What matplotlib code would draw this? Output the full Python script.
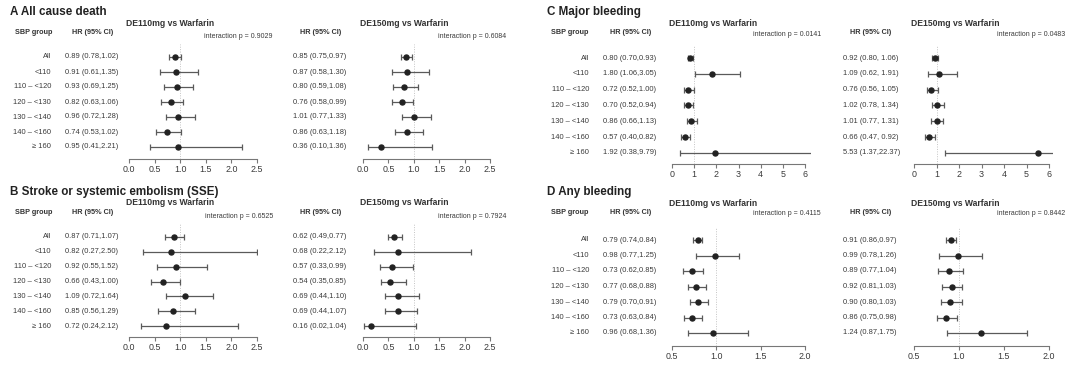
import numpy as np
import matplotlib
matplotlib.use("Agg")
import matplotlib.pyplot as plt
import matplotlib.transforms as mtransforms

plt.rcParams['font.family'] = ['Liberation Sans', 'DejaVu Sans']

W, H = 1080, 371
groups = ["All", "<110", "110 \u2013 <120", "120 \u2013 <130", "130 \u2013 <140", "140 \u2013 <160", "\u2265 160"]

# ---- data ----
a110_hr = [0.89, 0.91, 0.93, 0.82, 0.96, 0.74, 0.95]
a110_lo = [0.78, 0.61, 0.69, 0.63, 0.72, 0.53, 0.41]
a110_hi = [1.02, 1.35, 1.25, 1.06, 1.28, 1.02, 2.21]
a110_p = "0.9029"
a150_hr = [0.85, 0.87, 0.80, 0.76, 1.01, 0.86, 0.36]
a150_lo = [0.75, 0.58, 0.59, 0.58, 0.77, 0.63, 0.10]
a150_hi = [0.97, 1.30, 1.08, 0.99, 1.33, 1.18, 1.36]
a150_p = "0.6084"

b110_hr = [0.87, 0.82, 0.92, 0.66, 1.09, 0.85, 0.72]
b110_lo = [0.71, 0.27, 0.55, 0.43, 0.72, 0.56, 0.24]
b110_hi = [1.07, 2.50, 1.52, 1.00, 1.64, 1.29, 2.12]
b110_p = "0.6525"
b150_hr = [0.62, 0.68, 0.57, 0.54, 0.69, 0.69, 0.16]
b150_lo = [0.49, 0.22, 0.33, 0.35, 0.44, 0.44, 0.02]
b150_hi = [0.77, 2.12, 0.99, 0.85, 1.10, 1.07, 1.04]
b150_p = "0.7924"

c110_hr = [0.80, 1.80, 0.72, 0.70, 0.86, 0.57, 1.92]
c110_lo = [0.70, 1.06, 0.52, 0.52, 0.66, 0.40, 0.38]
c110_hi = [0.93, 3.05, 1.00, 0.94, 1.13, 0.82, 9.79]
c110_p = "0.0141"
c150_hr = [0.92, 1.09, 0.76, 1.02, 1.01, 0.66, 5.53]
c150_lo = [0.80, 0.62, 0.56, 0.78, 0.77, 0.47, 1.37]
c150_hi = [1.06, 1.91, 1.05, 1.34, 1.31, 0.92, 22.37]
c150_p = "0.0483"

d110_hr = [0.79, 0.98, 0.73, 0.77, 0.79, 0.73, 0.96]
d110_lo = [0.74, 0.77, 0.62, 0.68, 0.70, 0.63, 0.68]
d110_hi = [0.84, 1.25, 0.85, 0.88, 0.91, 0.84, 1.36]
d110_p = "0.4115"
d150_hr = [0.91, 0.99, 0.89, 0.92, 0.90, 0.86, 1.24]
d150_lo = [0.86, 0.78, 0.77, 0.81, 0.80, 0.75, 0.87]
d150_hi = [0.97, 1.26, 1.04, 1.03, 1.03, 0.98, 1.75]
d150_p = "0.8442"

fig = plt.figure(figsize=(W / 100, H / 100), dpi=100)
fig.patch.set_facecolor('white')

TXT = '#3a3a3a'
LINE = '#5a5a5a'


def fx(px):
    return px / W


def fy(py):
    return 1 - py / H


def forest(panel_geo, px0, px1, v0, v1, ticks, ticklabels, hr, lo, hi, pval,
           hr_x, sub, clip_max=None, hi_fmt="{:.2f}"):
    row0, rowN, axis_y = panel_geo['row0'], panel_geo['rowN'], panel_geo['axis_y']
    n = len(hr)
    sp = (rowN - row0) / (n - 1)
    top_px = row0 - 13
    scale = (px1 - px0) / (v1 - v0)
    xmax = v1 if clip_max is None else clip_max
    xmin = v0
    left_px = px0
    right_px = px0 + (xmax - v0) * scale
    ax = fig.add_axes([fx(left_px), fy(axis_y), fx(right_px - left_px), (axis_y - top_px) / H])
    ax.set_xlim(xmin, xmax)
    rb = (axis_y - row0) / sp
    rt = (top_px - row0) / sp
    ax.set_ylim(rb, rt)
    ax.patch.set_alpha(0)
    for s in ['top', 'right', 'left']:
        ax.spines[s].set_visible(False)
    ax.spines['bottom'].set_bounds(ticks[0], ticks[-1])
    ax.spines['bottom'].set_color('#777777')
    ax.spines['bottom'].set_linewidth(0.8)
    ax.set_yticks([])
    ax.set_xticks(ticks)
    ax.set_xticklabels(ticklabels)
    ax.tick_params(axis='x', length=3, width=0.8, color='#777777', pad=1.5,
                   labelsize=6.4, labelcolor=TXT)
    ax.axvline(1.0, color='#c4c4c4', lw=0.7, ls=(0, (1, 1.5)), zorder=0)
    rows = np.arange(n)
    hr = np.array(hr); lo = np.array(lo); hi = np.array(hi)
    ax.errorbar(hr, rows, xerr=[hr - lo, hi - hr], fmt='o', color=LINE,
                ecolor=LINE, elinewidth=0.9, capsize=2.4, capthick=0.9,
                markersize=3.6, markerfacecolor='#222222', markeredgecolor='#222222',
                clip_on=True)
    trans = mtransforms.blended_transform_factory(fig.transFigure, ax.transData)
    for i in range(n):
        lab = f"{hr[i]:.2f} ({lo[i]:.2f},{hi_fmt.format(hi[i])})"
        ax.text(fx(hr_x), i, lab, transform=trans, ha='left', va='center',
                fontsize=5.4, color=TXT, clip_on=False)
    fig.text(fx(hr_x + 28), fy(panel_geo['head_y']), "HR (95% CI)", ha='center', va='center',
             fontsize=5.2, fontweight='bold', color='#333333')
    fig.text(fx(px0 - 3), fy(panel_geo['sub_y']), sub, ha='left', va='center',
             fontsize=6.2, fontweight='bold', color='#333333')
    fig.text(fx(px1 + 16), fy(panel_geo['int_y']), f"interaction p = {pval}", ha='right',
             va='center', fontsize=5.0, color=TXT)
    return ax


def panel(letter_title, tx, geo, sbp_x, sbp_c):
    fig.text(fx(tx), fy(geo['title_y']), letter_title, ha='left', va='center',
             fontsize=8.4, fontweight='bold', color='#222222')
    fig.text(fx(sbp_c), fy(geo['head_y']), "SBP group", ha='center', va='center',
             fontsize=5.2, fontweight='bold', color='#333333')
    n = len(groups)
    sp = (geo['rowN'] - geo['row0']) / (n - 1)
    for i, g in enumerate(groups):
        fig.text(fx(sbp_x), fy(geo['row0'] + i * sp), g, ha='right', va='center',
                 fontsize=5.4, color=TXT)


geoA = dict(title_y=12, sub_y=24, head_y=33, int_y=36, row0=57, rowN=147, axis_y=159)
geoB = dict(title_y=192, sub_y=202, head_y=212, int_y=217, row0=237, rowN=326, axis_y=337)
geoC = dict(title_y=12, sub_y=24, head_y=33, int_y=35, row0=58, rowN=153, axis_y=164)
geoD = dict(title_y=192, sub_y=203, head_y=213, int_y=214, row0=240, rowN=333, axis_y=346)

t25 = [0, 0.5, 1.0, 1.5, 2.0, 2.5]
t25l = ["0.0", "0.5", "1.0", "1.5", "2.0", "2.5"]
t6 = [0, 1, 2, 3, 4, 5, 6]
t6l = ["0", "1", "2", "3", "4", "5", "6"]
t2 = [0.5, 1.0, 1.5, 2.0]
t2l = ["0.5", "1.0", "1.5", "2.0"]

panel("A All cause death", 10, geoA, 51, 34)
forest(geoA, 129, 257, 0, 2.5, t25, t25l, a110_hr, a110_lo, a110_hi, a110_p, 65, "DE110mg vs Warfarin")
forest(geoA, 363, 490, 0, 2.5, t25, t25l, a150_hr, a150_lo, a150_hi, a150_p, 293, "DE150mg vs Warfarin")

panel("B Stroke or systemic embolism (SSE)", 10, geoB, 51, 34)
forest(geoB, 129, 257, 0, 2.5, t25, t25l, b110_hr, b110_lo, b110_hi, b110_p, 65, "DE110mg vs Warfarin")
forest(geoB, 363, 490, 0, 2.5, t25, t25l, b150_hr, b150_lo, b150_hi, b150_p, 293, "DE150mg vs Warfarin")

panel("C Major bleeding", 547, geoC, 589, 570)
forest(geoC, 672, 805, 0, 6, t6, t6l, c110_hr, c110_lo, c110_hi, c110_p, 603, "DE110mg vs Warfarin",
       clip_max=6.25)
forest(geoC, 914, 1049, 0, 6, t6, t6l, c150_hr, c150_lo, c150_hi, c150_p, 843, "DE150mg vs Warfarin",
       clip_max=6.18, hi_fmt="{:5.2f}")

panel("D Any bleeding", 547, geoD, 589, 570)
forest(geoD, 672, 805, 0.5, 2.0, t2, t2l, d110_hr, d110_lo, d110_hi, d110_p, 603, "DE110mg vs Warfarin")
forest(geoD, 914, 1049, 0.5, 2.0, t2, t2l, d150_hr, d150_lo, d150_hi, d150_p, 843, "DE150mg vs Warfarin")

fig.savefig("out.png", dpi=100, facecolor='white')
